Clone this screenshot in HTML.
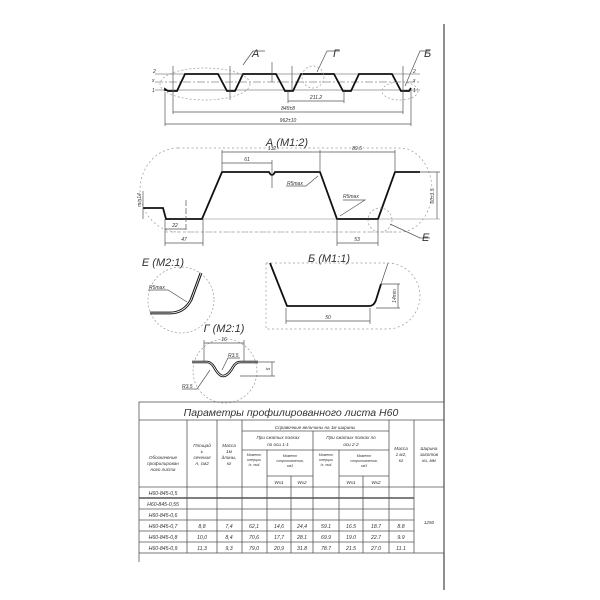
<!DOCTYPE html>
<html><head><meta charset="utf-8"><style>
html,body{margin:0;padding:0;background:#fff;}
svg{display:block;}
text{font-family:"Liberation Sans","DejaVu Sans",sans-serif;font-style:italic;fill:#333;}
</style></head><body>
<svg width="600" height="600" viewBox="0 0 600 600" xmlns="http://www.w3.org/2000/svg">
<g fill="none" stroke="#555" stroke-width="0.7">
<!-- page border line -->
<line x1="444" y1="24" x2="444" y2="590" stroke="#444" stroke-width="1.2"/>
<!-- ===== Top profile ===== -->
<line x1="155" y1="74" x2="420" y2="74" stroke="#888"/>
<line x1="155" y1="82" x2="420" y2="82" stroke="#888" stroke-dasharray="8,2,2,2"/>
<line x1="155" y1="90" x2="420" y2="90" stroke="#888"/>
<path d="M165,91 V89 L168,91 H177 L185,74 H218 L227,91 H235 L243,74 H276 L285,91 H293 L301,74 H334 L343,91 H351 L359,74 H392 L401,91 H409 L411,88" stroke="#111" stroke-width="1.8"/>
<line x1="173" y1="66" x2="173" y2="114"/>
<line x1="403" y1="66" x2="403" y2="114"/>
<line x1="165" y1="92" x2="165" y2="126"/>
<line x1="411" y1="90" x2="411" y2="126"/>
<line x1="288" y1="92" x2="288" y2="103"/>
<line x1="344" y1="92" x2="344" y2="103"/>
<line x1="288" y1="101" x2="344" y2="101"/>
<line x1="173" y1="112" x2="403" y2="112"/>
<line x1="165" y1="124" x2="411" y2="124"/>
<line x1="272" y1="62" x2="272" y2="82"/>
<line x1="292" y1="66" x2="292" y2="92"/>
<line x1="230" y1="66" x2="230" y2="100"/>
<ellipse cx="205" cy="84" rx="45" ry="16" stroke-dasharray="2,2" stroke="#999"/>
<circle cx="313" cy="77" r="11" stroke-dasharray="2,2" stroke="#999"/>
<ellipse cx="400" cy="91" rx="18" ry="9" stroke-dasharray="2,2" stroke="#999"/>
<polyline points="243,65 253,51 265,51"/>
<polyline points="317,72 327,51 340,51"/>
<polyline points="405,86 420,51 430,51"/>
<!-- ===== Detail A ===== -->
<path d="M178,148 H400 A32,42 0 0 1 400,232 H178 A38,42 0 0 1 178,148 Z" stroke-dasharray="2,2.5" stroke="#999"/>
<line x1="165" y1="219" x2="440" y2="219" stroke="#aaa"/>
<line x1="165" y1="232" x2="400" y2="232" stroke-dasharray="3,3" stroke="#aaa"/>
<path d="M143,208 H163 L166,219 H202 L222,172 H269 Q272,178 275,172 H320 L337,219 H378 L395,172 H420" stroke="#111" stroke-width="1.8"/>
<line x1="222" y1="150" x2="222" y2="172"/>
<line x1="320" y1="150" x2="320" y2="172"/>
<line x1="395" y1="150" x2="395" y2="172"/>
<line x1="272" y1="160" x2="272" y2="188"/>
<line x1="222" y1="152" x2="395" y2="152"/>
<line x1="222" y1="163" x2="272" y2="163"/>
<line x1="420" y1="172" x2="440" y2="172"/>
<line x1="437" y1="172" x2="437" y2="219"/>
<line x1="143" y1="191" x2="143" y2="219"/>
<line x1="186" y1="200" x2="186" y2="232" stroke-dasharray="6,2"/>
<line x1="165" y1="219" x2="165" y2="246"/>
<line x1="203" y1="219" x2="203" y2="246"/>
<line x1="165" y1="229" x2="186" y2="229"/>
<line x1="165" y1="243" x2="203" y2="243"/>
<line x1="337" y1="219" x2="337" y2="246"/>
<line x1="378" y1="219" x2="378" y2="246"/>
<line x1="337" y1="243" x2="378" y2="243"/>
<polyline points="286,186 306,186 318,176"/>
<polyline points="343,200 365,200 340,216"/>
<circle cx="380" cy="220" r="12" stroke-dasharray="2,2" stroke="#999"/>
<polyline points="390,224 420,238 430,238"/>
<!-- ===== Detail E ===== -->
<circle cx="181" cy="300" r="33" stroke-dasharray="2,2" stroke="#999"/>
<path d="M150,313 H170 Q184,313 191,300 L201,273" stroke="#111" stroke-width="2.8"/>
<path d="M150,313 H170 Q184,313 191,300 L201,273" stroke="#fff" stroke-width="0.8"/>
<polyline points="148,290 168,290 187,302"/>
<!-- ===== Detail Б ===== -->
<path d="M266,263 H387 A33,33 0 0 1 387,329 H266 A33,33 0 0 1 266,329 Z" stroke-dasharray="2,2.5" stroke="#999"/>
<path d="M270,263 L287,306 H369 Q374,306 376,300 L381,284" stroke="#111" stroke-width="1.8"/>
<line x1="381" y1="284" x2="388" y2="263"/>
<line x1="286" y1="308" x2="286" y2="324"/>
<line x1="370" y1="308" x2="370" y2="324"/>
<line x1="286" y1="321" x2="370" y2="321"/>
<line x1="381" y1="284" x2="400" y2="284"/>
<line x1="376" y1="308" x2="400" y2="308"/>
<line x1="398" y1="284" x2="398" y2="308"/>
<!-- ===== Detail Г ===== -->
<circle cx="225" cy="371" r="32" stroke-dasharray="2,2" stroke="#999"/>
<path d="M192,362 H207 Q211,362 214,367 Q219,376 223,376 Q228,376 233,367 Q236,362 240,362 H258" stroke="#111" stroke-width="2.6"/>
<path d="M192,362 H207 Q211,362 214,367 Q219,376 223,376 Q228,376 233,367 Q236,362 240,362 H258" stroke="#fff" stroke-width="0.8"/>
<line x1="204" y1="340" x2="204" y2="362"/>
<line x1="244" y1="340" x2="244" y2="362"/>
<line x1="204" y1="343" x2="244" y2="343"/>
<line x1="258" y1="362" x2="275" y2="362"/>
<line x1="240" y1="376" x2="275" y2="376"/>
<line x1="272" y1="362" x2="272" y2="376"/>
<polyline points="240,358 228,358 222,370"/>
<polyline points="182,389 197,389 210,370"/>
<!-- ===== Table ===== -->
<g stroke="#555" stroke-width="0.8">
<rect x="139" y="402" width="305" height="151"/>
<line x1="139" y1="420" x2="444" y2="420"/>
<line x1="139" y1="487" x2="414" y2="487"/>
<line x1="414" y1="487" x2="444" y2="487"/>
<line x1="139" y1="498" x2="414" y2="498" stroke-width="1.4"/>
<line x1="139" y1="509" x2="414" y2="509"/>
<line x1="139" y1="520" x2="414" y2="520"/>
<line x1="139" y1="531" x2="414" y2="531"/>
<line x1="139" y1="542" x2="414" y2="542"/>
<line x1="242" y1="431" x2="389" y2="431"/>
<line x1="242" y1="450" x2="389" y2="450"/>
<line x1="267" y1="476" x2="313" y2="476"/>
<line x1="339" y1="476" x2="389" y2="476"/>
<line x1="187" y1="420" x2="187" y2="553"/>
<line x1="217" y1="420" x2="217" y2="553"/>
<line x1="242" y1="420" x2="242" y2="553"/>
<line x1="267" y1="450" x2="267" y2="553"/>
<line x1="291" y1="476" x2="291" y2="553"/>
<line x1="313" y1="431" x2="313" y2="553"/>
<line x1="339" y1="450" x2="339" y2="553"/>
<line x1="363" y1="476" x2="363" y2="553"/>
<line x1="389" y1="420" x2="389" y2="553"/>
<line x1="414" y1="420" x2="414" y2="553"/>
<line x1="139" y1="553" x2="139" y2="562"/>
</g>
</g>
<!-- text -->
<g font-size="5">
<text x="153" y="73">2</text><text x="152" y="82">x</text><text x="152" y="92">1</text>
<text x="413" y="73">2</text><text x="413" y="82">x</text><text x="413" y="92">1</text>
<text x="316" y="99" text-anchor="middle">211.2</text>
<text x="288" y="110" text-anchor="middle">845±8</text>
<text x="288" y="122" text-anchor="middle">962±10</text>
<text x="272" y="150" text-anchor="middle">132</text>
<text x="247" y="161" text-anchor="middle">61</text>
<text x="357" y="150" text-anchor="middle">89.5</text>
<text x="287" y="185">R5max</text>
<text x="343" y="198">R5max</text>
<text x="175" y="227" text-anchor="middle">22</text>
<text x="184" y="241" text-anchor="middle">47</text>
<text x="357" y="241" text-anchor="middle">53</text>
<text transform="translate(434,196) rotate(-90)" text-anchor="middle">60±1.5</text>
<text transform="translate(141,200) rotate(-90)" text-anchor="middle">min14</text>
<text x="149" y="289">R5max</text>
<text x="328" y="319" text-anchor="middle">50</text>
<text transform="translate(396,296) rotate(-90)" text-anchor="middle">14min</text>
<text x="224" y="341" text-anchor="middle">16</text>
<text x="228" y="357">R3.5</text>
<text x="182" y="388">R3.5</text>
<text transform="translate(270,369) rotate(-90)" text-anchor="middle">5</text>
</g>
<g font-size="11">
<text x="252" y="57">А</text><text x="333" y="57">Г</text><text x="424" y="57">Б</text>
<text x="287" y="146" text-anchor="middle">А (М1:2)</text>
<text x="422" y="241">Е</text>
<text x="163" y="266" text-anchor="middle">Е (М2:1)</text>
<text x="329" y="262" text-anchor="middle">Б (М1:1)</text>
<text x="224" y="332" text-anchor="middle">Г (М2:1)</text>
<text x="291" y="416" text-anchor="middle" font-size="10.5">Параметры  профилированного  листа  Н60</text>
</g>
<g font-size="4.6" text-anchor="middle">
<text x="315" y="429">Справочные величины на 1м ширины</text>
<text x="278" y="439">При сжатых полках</text><text x="278" y="446">по оси 1-1</text>
<text x="351" y="439">При сжатых полках по</text><text x="351" y="446">оси 2-2</text>
<text x="163" y="459">Обозначение</text><text x="163" y="465">профилирован</text><text x="163" y="471">ного листа</text>
<text x="202" y="447">Площад</text><text x="202" y="453">ь</text><text x="202" y="459">сечения</text><text x="202" y="465">А, см2</text>
<text x="229" y="447">Масса</text><text x="229" y="453">1м</text><text x="229" y="459">длины,</text><text x="229" y="465">кг</text>
<text x="254" y="456" font-size="3.6">Момент</text><text x="254" y="461" font-size="3.6">инерции</text><text x="254" y="466" font-size="3.6">Ix, см4</text>
<text x="290" y="457" font-size="3.6">Момент</text><text x="290" y="462" font-size="3.6">сопротивления,</text><text x="290" y="467" font-size="3.6">см3</text>
<text x="326" y="456" font-size="3.6">Момент</text><text x="326" y="461" font-size="3.6">инерции</text><text x="326" y="466" font-size="3.6">Ix, см4</text>
<text x="364" y="457" font-size="3.6">Момент</text><text x="364" y="462" font-size="3.6">сопротивления,</text><text x="364" y="467" font-size="3.6">см3</text>
<text x="279" y="484">Wx1</text><text x="302" y="484">Wx2</text><text x="351" y="484">Wx1</text><text x="376" y="484">Wx2</text>
<text x="401" y="450">Масса</text><text x="401" y="456">1 м2,</text><text x="401" y="462">кг</text>
<text x="429" y="450">Ширина</text><text x="429" y="456">заготов</text><text x="429" y="462">ки, мм</text>
<text x="429" y="524">1250</text>
</g>
<g font-size="5.2" text-anchor="middle">
<text x="163" y="495">Н60-845-0,5</text>
<text x="163" y="506">Н60-845-0,55</text>
<text x="163" y="517">Н60-845-0,6</text>
<text x="163" y="528">Н60-845-0,7</text>
<text x="163" y="539">Н60-845-0,8</text>
<text x="163" y="550">Н60-845-0,9</text>
<text x="202" y="528">8,8</text><text x="229" y="528">7,4</text><text x="254" y="528">62,1</text><text x="279" y="528">14,6</text><text x="302" y="528">24,4</text><text x="326" y="528">59.1</text><text x="351" y="528">16.5</text><text x="376" y="528">18.7</text><text x="401" y="528">8.8</text>
<text x="202" y="539">10,0</text><text x="229" y="539">8,4</text><text x="254" y="539">70,6</text><text x="279" y="539">17,7</text><text x="302" y="539">28.1</text><text x="326" y="539">69.9</text><text x="351" y="539">19.0</text><text x="376" y="539">22.7</text><text x="401" y="539">9.9</text>
<text x="202" y="550">11,3</text><text x="229" y="550">9,3</text><text x="254" y="550">79,0</text><text x="279" y="550">20,9</text><text x="302" y="550">31.8</text><text x="326" y="550">78.7</text><text x="351" y="550">21.5</text><text x="376" y="550">27.0</text><text x="401" y="550">11.1</text>
</g>
</svg>
</body></html>
